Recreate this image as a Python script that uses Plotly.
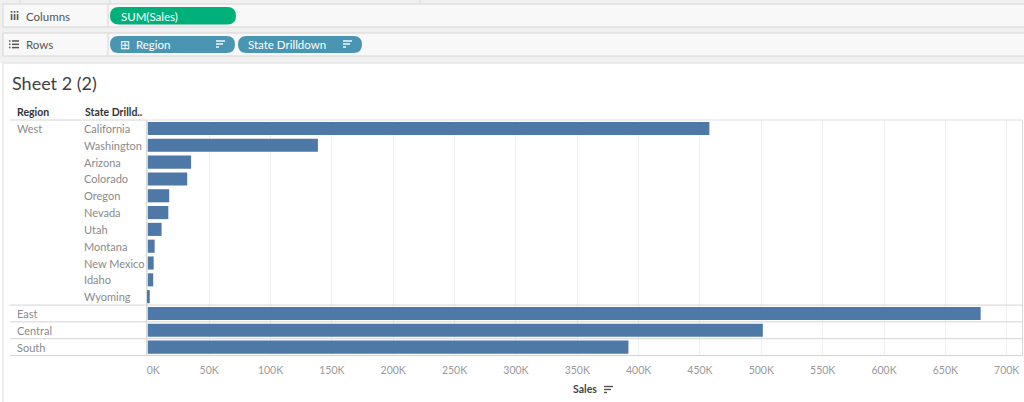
import plotly.graph_objects as go

W, H = 1024, 402

# ---- data ----
states = ["California", "Washington", "Arizona", "Colorado", "Oregon", "Nevada",
          "Utah", "Montana", "New Mexico", "Idaho", "Wyoming"]
state_sales = [457688, 138641, 35282, 32108, 17431, 16729, 11220, 5589, 4784, 4382, 1603]
regions_other = ["East", "Central", "South"]
region_sales = [678781, 501240, 391722]
tick_vals = [0, 50000, 100000, 150000, 200000, 250000, 300000, 350000,
             400000, 450000, 500000, 550000, 600000, 650000, 700000]
tick_text = ["\u00a0\u00a0\u00a0\u00a00K", "50K", "100K", "150K", "200K", "250K", "300K", "350K",
             "400K", "450K", "500K", "550K", "600K", "650K", "700K"]

cats = states + regions_other
vals = state_sales + region_sales

FONT = "Lato, 'Open Sans', sans-serif"


def px(x):
    return x / W


def py(y):
    return 1 - y / H


shapes = []
annos = []


def rect(x0, y0, x1, y1, fill):
    shapes.append(dict(type="rect", xref="paper", yref="paper",
                       x0=px(x0), x1=px(x1), y0=py(y1), y1=py(y0),
                       fillcolor=fill, line=dict(width=0), layer="below"))


def hline(x0, x1, y, color, width=1, layer="above"):
    shapes.append(dict(type="line", xref="paper", yref="paper",
                       x0=px(x0), x1=px(x1), y0=py(y), y1=py(y),
                       line=dict(color=color, width=width), layer=layer))


def vline(x, y0, y1, color, width=1, layer="above"):
    shapes.append(dict(type="line", xref="paper", yref="paper",
                       x0=px(x), x1=px(x), y0=py(y0), y1=py(y1),
                       line=dict(color=color, width=width), layer=layer))


def pill(x0, y0, x1, y1, fill):
    r = (y1 - y0) / 2
    path = (f"M {px(x0 + r)},{py(y0)} L {px(x1 - r)},{py(y0)} "
            f"Q {px(x1)},{py(y0)} {px(x1)},{py(y0 + r)} "
            f"Q {px(x1)},{py(y1)} {px(x1 - r)},{py(y1)} "
            f"L {px(x0 + r)},{py(y1)} "
            f"Q {px(x0)},{py(y1)} {px(x0)},{py(y0 + r)} "
            f"Q {px(x0)},{py(y0)} {px(x0 + r)},{py(y0)} Z")
    shapes.append(dict(type="path", xref="paper", yref="paper", path=path,
                       fillcolor=fill, line=dict(width=0), layer="above"))


def sort_icon(x, y, color, width=1.5):
    for i, ln in enumerate([9, 7, 3]):
        hline(x, x + ln, y + i * 3, color, width)


def text(x, y, s, size=11, color="#333", anchor="left", bold=False, yanchor="middle"):
    if bold:
        s = f"<b>{s}</b>"
    annos.append(dict(x=px(x), y=py(y), xref="paper", yref="paper", text=s,
                      showarrow=False, xanchor=anchor, yanchor=yanchor,
                      font=dict(family=FONT, size=size, color=color)))


# ---- Tableau shelf UI ----
rect(0, 0, W, 63, "#f0f0f0")
vline(20, 0, 4, "#d8d8d8")
vline(110, 0, 4, "#d8d8d8")
vline(420, 0, 4, "#d8d8d8")
# Columns shelf
rect(3, 4, W, 27, "#f8f8f8")
hline(3, W, 4, "#d6d6d6")
hline(3, W, 27, "#d6d6d6")
vline(3, 4, 27, "#d6d6d6")
vline(108, 4, 27, "#d6d6d6")
# Rows shelf
rect(3, 33, W, 56, "#f8f8f8")
hline(3, W, 33, "#d6d6d6")
hline(3, W, 56, "#d6d6d6")
vline(3, 33, 56, "#d6d6d6")
vline(108, 33, 56, "#d6d6d6")
# sheet area
rect(3, 63, W, H, "#ffffff")
hline(3, W, 63, "#e0e0e0")
vline(3, 63, H, "#e0e0e0")

text(8, 15.5, "<b>iii</b>", 12, "#555")
text(24, 16, "Columns", 11.5, "#555")
# rows icon
for i in range(3):
    hline(9, 10.5, 41 + i * 3.3, "#555", 1.5)
    hline(12, 19, 41 + i * 3.3, "#555", 1.5)
text(24, 45, "Rows", 11.5, "#555")

pill(110, 7, 236, 24.5, "#00b07a")
text(119, 16, "SUM(Sales)", 11.5, "#ffffff")
pill(110, 36, 235, 53, "#4a96b2")
text(118, 45, "⊞  Region", 11.5, "#ffffff")
sort_icon(216, 41, "#ffffff", 1.4)
pill(238, 36, 362, 53, "#4a96b2")
text(246, 45, "State Drilldown", 11.5, "#ffffff")
sort_icon(343, 41, "#ffffff", 1.4)

# ---- title and headers ----
text(10, 83, "Sheet 2 (2)", 18, "#404040")
text(15, 112, "Region", 10.5, "#333", bold=True)
text(83, 112, "State Drilld..", 10.5, "#333", bold=True)
hline(10, 146, 120, "#d4d4d4")

# ---- chart ----
s = 61.35 / 50000.0
x_min = (146 - 147.8) / s
x_max = (1023 - 147.8) / s

fig = go.Figure(go.Bar(
    x=vals, y=cats, orientation="h",
    marker=dict(color="#4e79a7", line=dict(color="#4e79a7", width=0)),
    hoverinfo="x+y",
))

# row labels
for st in states:
    annos.append(dict(x=px(82), y=st, xref="paper", yref="y", text=st, showarrow=False,
                      xanchor="left", yanchor="middle",
                      font=dict(family=FONT, size=11, color="#8a8a8a")))
annos.append(dict(x=px(15), y="California", xref="paper", yref="y", text="West",
                  showarrow=False, xanchor="left", yanchor="middle",
                  font=dict(family=FONT, size=11, color="#8a8a8a")))
for rg in regions_other:
    annos.append(dict(x=px(15), y=rg, xref="paper", yref="y", text=rg, showarrow=False,
                      xanchor="left", yanchor="middle",
                      font=dict(family=FONT, size=11, color="#8a8a8a")))

# pane separators
n = len(cats)
for k in [len(states) - 0.5, len(states) + 0.5, len(states) + 1.5, n - 0.5]:
    shapes.append(dict(type="line", xref="paper", yref="y", x0=px(10), x1=px(1023),
                       y0=k, y1=k, line=dict(color="#d4d4d4", width=1), layer="above"))
# borders of pane
hline(146, 1023, 120, "#e0e0e0")
vline(146.5, 120, 356, "#d9d9d9")
vline(1022.5, 120, 356, "#d9d9d9")

# axis title
text(585, 389, "Sales", 10.5, "#444", anchor="center", bold=True)
sort_icon(604, 386.5, "#555", 1.4)

fig.update_layout(
    template="none",
    width=W, height=H,
    autosize=False,
    margin=dict(l=0, r=0, t=0, b=0, pad=0, autoexpand=False),
    paper_bgcolor="#ffffff",
    plot_bgcolor="#ffffff",
    showlegend=False,
    bargap=0.22,
    shapes=shapes,
    annotations=annos,
    xaxis=dict(domain=[px(146), px(1023)], range=[x_min, x_max],
               tickvals=tick_vals, ticktext=tick_text, automargin=False,
               showgrid=True, gridcolor="#f0f0f0", gridwidth=1,
               zeroline=False, showline=False, ticks="",
               ticklabelstandoff=6,
               tickfont=dict(family=FONT, size=10.5, color="#9a9a9a"),
               fixedrange=True),
    yaxis=dict(domain=[py(356), py(120)], categoryorder="array", categoryarray=cats,
               autorange="reversed", showticklabels=False, showgrid=False,
               automargin=False, zeroline=False, ticks="", fixedrange=True),
)

fig.write_html(
    "out.html",
    config={"displayModeBar": False},
    post_script=(
        "document.documentElement.style.margin='0';"
        "document.documentElement.style.overflow='hidden';"
        "document.body.style.margin='0';"
        "document.body.style.overflow='hidden';"
        "var d=document.getElementById('{plot_id}');"
        "d.style.position='fixed';d.style.left='0px';d.style.top='0px';"
    ),
)
